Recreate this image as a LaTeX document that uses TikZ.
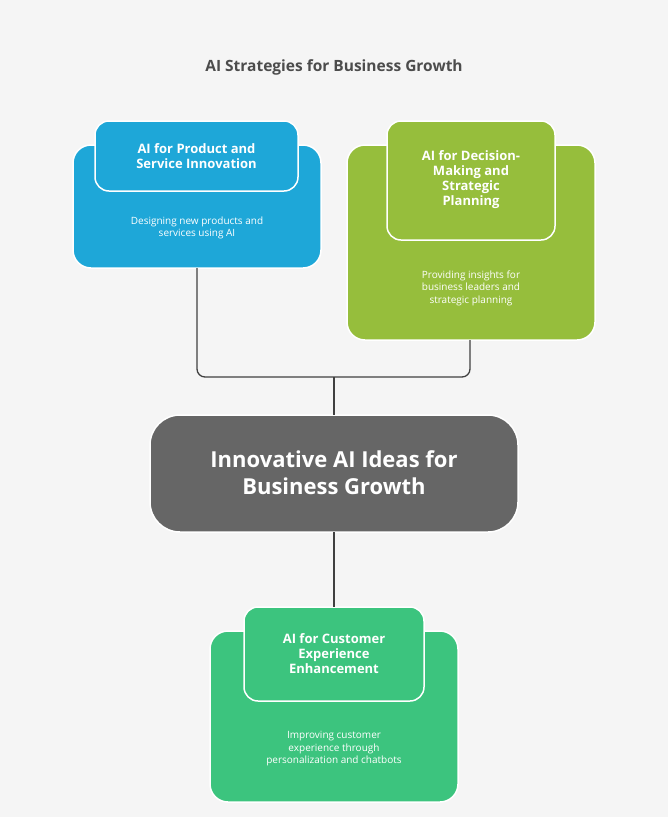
\documentclass[tikz,border=0pt]{standalone}
\usepackage{fontspec}
\setmainfont{Open Sans}
\begin{document}
\begin{tikzpicture}[x=1pt,y=-1pt,
 box/.style={draw=white,line width=1.5pt,rounded corners=18pt},
 tab/.style={draw=white,line width=1.5pt,rounded corners=14pt},
 ttl/.style={text=white,font=\bfseries\fontsize{13}{15}\selectfont,align=center},
 dsc/.style={text=white,font=\fontsize{10}{12.5}\selectfont,align=center},
 con/.style={draw=black!75,line width=1.3pt,rounded corners=8pt}]
\definecolor{cb}{HTML}{1EA7D8}\definecolor{cg}{HTML}{96BE3C}\definecolor{ct}{HTML}{3CC47E}\definecolor{cgr}{HTML}{666666}
\fill[fill={rgb,255:red,245;green,245;blue,245}] (0,0) rectangle (668,817);
\useasboundingbox (0,0) rectangle (668,817);
\node[font=\bfseries\fontsize{15.5}{18}\selectfont,text=black!70] (title) at (334,67) {AI Strategies for Business Growth};
% blue
\draw[box,fill=cb] (73,145) rectangle (321,268);
\coordinate (bb) at (197,268);
\draw[tab,fill=cb] (95,121) rectangle (298,191);
\node[ttl] (bt) at (196.5,156) {AI for Product and\\Service Innovation};
\node[dsc] (bd) at (197,228) {Designing new products and\\services using AI};
% green
\draw[box,fill=cg] (347,145) rectangle (595,340);
\coordinate (gb) at (470,340);
\draw[tab,fill=cg] (387,121) rectangle (555,240);
\node[ttl] (gt) at (471,180) {AI for Decision-\\Making and\\Strategic\\Planning};
\node[dsc] (gd) at (471,288) {Providing insights for\\business leaders and\\strategic planning};
% center
\draw[box,fill=cgr,rounded corners=30pt] (150,415) rectangle (518,532);
\node[text=white,font=\bfseries\fontsize{22}{27}\selectfont,align=center] (c) at (334,473) {Innovative AI Ideas for\\Business Growth};
\coordinate (ct) at (334,415); \coordinate (cbt) at (334,532);
% teal
\draw[box,fill=ct] (210,631) rectangle (458,802);
\draw[tab,fill=ct] (244,607) rectangle (424,701);
\coordinate (tt) at (334,607);
\node[ttl] (tti) at (334,654) {AI for Customer\\Experience\\Enhancement};
\node[dsc] (td) at (334,749) {Improving customer\\experience through\\personalization and chatbots};
% connectors
\coordinate (j) at (334,377);
\draw[con] (bb) |- (j) -| (gb);
\draw[con] (j) -- (ct);
\draw[con] (cbt) -- (tt);
\end{tikzpicture}
\end{document}
